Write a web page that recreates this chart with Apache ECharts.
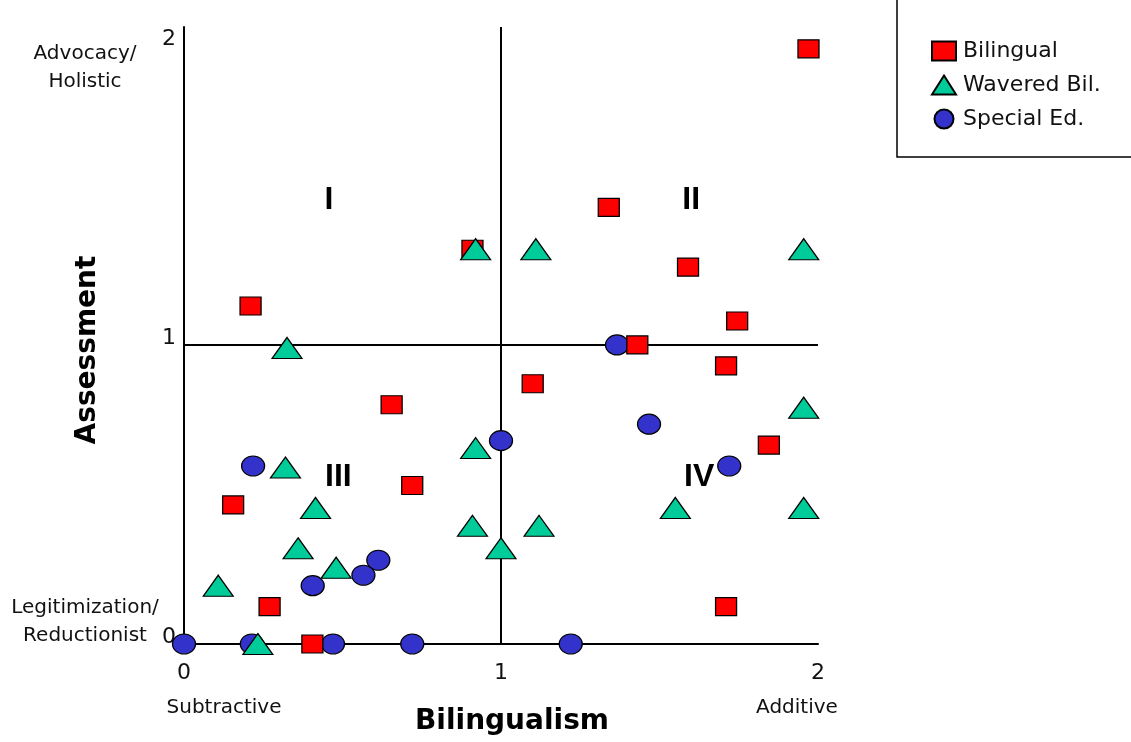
<!DOCTYPE html>
<html>
<head>
<meta charset="utf-8">
<script src="https://cdn.jsdelivr.net/npm/echarts@6/dist/echarts.min.js"></script>
<style>
    html, body { margin: 0; padding: 0; background: #fff; }
    #chart { width: 1131px; height: 742px; }
</style>
</head>
<body>
<div id="chart"></div>
<script>
// values: [bilingualism, assessment]
var bilingual = [[1.97, 1.99], [1.34, 1.46], [0.91, 1.32], [1.59, 1.26], [1.745, 1.08], [1.43, 1.0],
    [0.21, 1.13], [1.71, 0.93], [1.10, 0.87], [0.655, 0.80], [1.845, 0.665], [0.72, 0.53],
    [0.155, 0.465], [0.27, 0.125], [1.71, 0.125], [0.405, 0]];
var wavered = [[0.92, 1.32], [1.11, 1.32], [1.955, 1.32], [0.325, 0.99], [1.955, 0.79], [0.92, 0.655],
    [0.32, 0.59], [0.415, 0.455], [1.55, 0.455], [1.955, 0.455], [0.91, 0.395], [1.12, 0.395],
    [1.0, 0.32], [0.36, 0.32], [0.48, 0.255], [0.108, 0.195], [0.233, 0]];
var specialEd = [[1.366, 1.0], [1.467, 0.735], [1.0, 0.68], [1.72, 0.595], [0.218, 0.595], [0.613, 0.28],
    [0.566, 0.23], [0.406, 0.195], [0, 0], [0.214, 0], [0.47, 0], [0.72, 0], [1.22, 0]];
var quadrantLabels = [[0.457, 1.485, 'I'], [1.6, 1.485, 'II'], [0.487, 0.559, 'III'], [1.625, 0.559, 'IV']];
var tickValues = [0, 1, 2];

var smallFont = '20px "DejaVu Sans"';
var boldFont = 'bold 28px "DejaVu Sans"';

function tickLabel(v) {
    return tickValues.indexOf(v) >= 0 ? String(v) : '';
}

var graphics = [
    { type: 'rect', shape: { x: 897, y: -10, width: 300, height: 167 }, style: { fill: 'none', stroke: '#000', lineWidth: 1.5 } },
    { type: 'text', x: 88, y: 350, rotation: Math.PI / 2, style: { text: 'Assessment', font: boldFont, fill: '#000', textAlign: 'center', textVerticalAlign: 'middle' } },
    { type: 'text', x: 512, y: 722, style: { text: 'Bilingualism', font: boldFont, fill: '#000', textAlign: 'center', textVerticalAlign: 'middle' } },
    { type: 'text', x: 85, y: 68, style: { text: 'Advocacy/\nHolistic', font: smallFont, lineHeight: 28, fill: '#111', textAlign: 'center', textVerticalAlign: 'middle' } },
    { type: 'text', x: 85, y: 622, style: { text: 'Legitimization/\nReductionist', font: smallFont, lineHeight: 28, fill: '#111', textAlign: 'center', textVerticalAlign: 'middle' } },
    { type: 'text', x: 224, y: 708, style: { text: 'Subtractive', font: smallFont, fill: '#111', textAlign: 'center', textVerticalAlign: 'middle' } },
    { type: 'text', x: 797, y: 708, style: { text: 'Additive', font: smallFont, fill: '#111', textAlign: 'center', textVerticalAlign: 'middle' } }
];

var option = {
    animation: false,
    backgroundColor: '#fff',
    grid: { left: 184, right: 313, top: 27, bottom: 98 },
    xAxis: {
        type: 'value', min: 0, max: 2, interval: 1,
        axisLine: { lineStyle: { color: '#000', width: 2 } },
        axisTick: { show: false },
        splitLine: { show: false },
        axisLabel: { formatter: tickLabel, margin: 18, color: '#111', fontSize: 22, fontFamily: 'DejaVu Sans' }
    },
    yAxis: {
        type: 'value', min: 0, max: 2.063, interval: 1,
        axisLine: { lineStyle: { color: '#000', width: 2 } },
        axisTick: { show: false },
        splitLine: { show: false },
        axisLabel: { formatter: tickLabel, margin: 8, color: '#111', fontSize: 22, fontFamily: 'DejaVu Sans', verticalAlign: 'bottom', padding: [0, 0, -4, 0] }
    },
    legend: {
        orient: 'vertical', left: 926, top: 35,
        itemWidth: 24, itemHeight: 19, itemGap: 12,
        textStyle: { fontSize: 22, fontFamily: 'DejaVu Sans', color: '#111', padding: [0, 0, 0, 2] },
        data: [
            { name: 'Bilingual', icon: 'rect' },
            { name: 'Wavered Bil.', icon: 'triangle' },
            { name: 'Special Ed.', icon: 'circle' }
        ]
    },
    graphic: graphics,
    series: [
        {
            name: 'Special Ed.', type: 'scatter', data: specialEd,
            symbol: 'circle', symbolSize: [23, 20],
            itemStyle: { color: '#3333cc', borderColor: '#000', borderWidth: 1.2, opacity: 1 },
            markLine: {
                silent: true, z: 1, symbol: 'none',
                label: { show: false },
                lineStyle: { color: '#000', width: 2, type: 'solid' },
                data: [{ xAxis: 1 }, { yAxis: 1 }]
            }
        },
        {
            name: 'Bilingual', type: 'scatter', data: bilingual,
            symbol: 'rect', symbolSize: [21, 18],
            itemStyle: { color: '#ff0000', borderColor: '#000', borderWidth: 1.2, opacity: 1 }
        },
        {
            name: 'Wavered Bil.', type: 'scatter', data: wavered,
            symbol: 'triangle', symbolSize: [30, 21],
            itemStyle: { color: '#00cc99', borderColor: '#000', borderWidth: 1.2, opacity: 1 }
        }
    ]
};

var myChart = echarts.init(document.getElementById('chart'));
myChart.setOption(option);

// 象限标记 I-IV，按数据坐标换算到像素
quadrantLabels.forEach(function (q) {
    var pt = myChart.convertToPixel({ gridIndex: 0 }, [q[0], q[1]]);
    graphics.push({
        type: 'text', x: pt[0], y: pt[1],
        style: { text: q[2], font: 'bold 32px "Liberation Sans"', fill: '#000', textAlign: 'center', textVerticalAlign: 'middle' }
    });
});
myChart.setOption({ graphic: graphics });
</script>
</body>
</html>
